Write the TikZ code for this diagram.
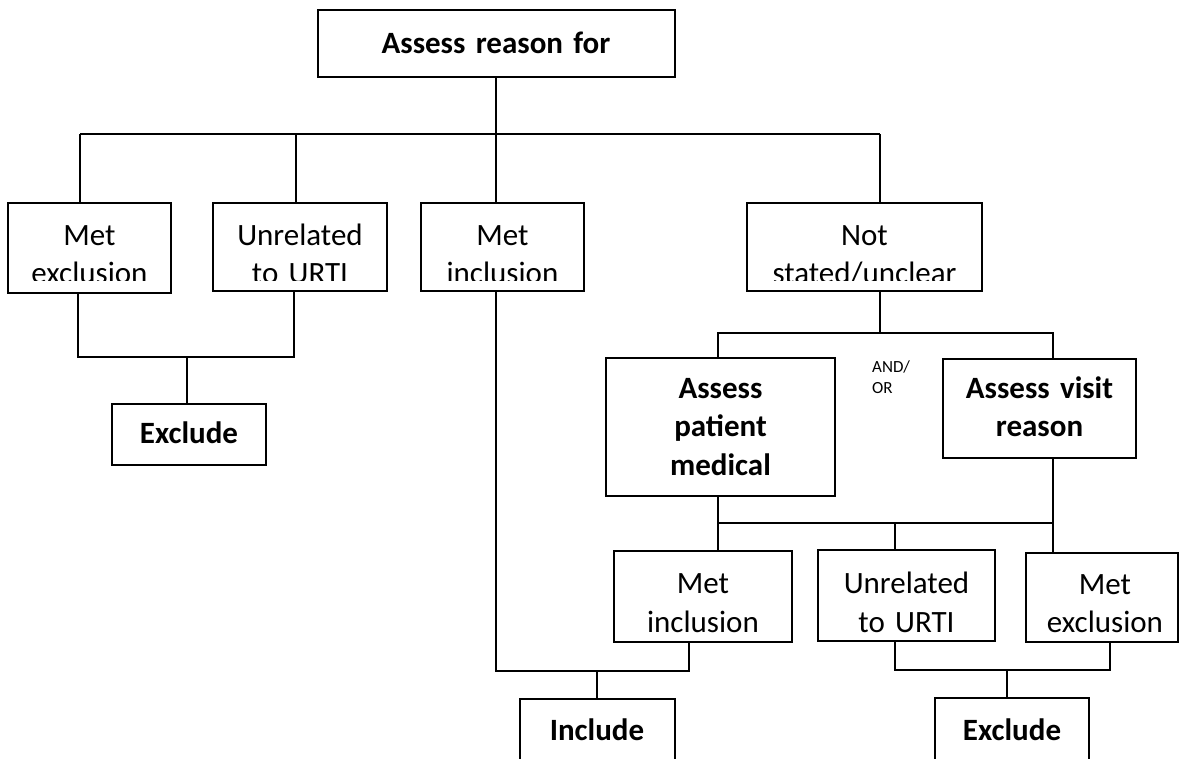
\documentclass[tikz,border=0pt]{standalone}
\usepackage{fontspec}
\setmainfont{Carlito}
\usepackage{tikz}
\tikzset{
x=1pt, y=-1pt,
box/.style={%
    rectangle,
    inner sep=0pt,
    draw=black,
    line width=2pt,
},
link/.style={draw=black, line width=2pt},
txt/.style={%
    inner sep=0pt,
    text width=300pt,
    align=center,
    anchor=base,
    font=\fontsize{31}{38.5}\selectfont
},
btxt/.style={txt, font=\fontsize{31}{38.5}\selectfont\bfseries},
small/.style={%
    inner sep=0pt, text width=60pt, align=left, anchor=base west,
    font=\fontsize{17}{21}\selectfont
},
}

\begin{document}
\begin{tikzpicture}
	\clip (0,0) rectangle (1181,758);
	% boxes
	\node[box, minimum width=357, minimum height=67] (top) at (496,43.5) {};
	\node[box, minimum width=163, minimum height=90] (metexA) at (89.5,248) {};
	\node[box, minimum width=174, minimum height=88] (unrelA) at (300,247) {};
	\node[box, minimum width=163, minimum height=88] (metinA) at (502.5,247) {};
	\node[box, minimum width=235, minimum height=88] (notst) at (864.5,247) {};
	\node[box, minimum width=154, minimum height=61] (excludeA) at (189,434.5) {};
	\node[box, minimum width=229, minimum height=138] (medical) at (720.5,427) {};
	\node[box, minimum width=193, minimum height=99] (visit) at (1039.5,408.5) {};
	\node[box, minimum width=178, minimum height=91] (metinB) at (703,596.5) {};
	\node[box, minimum width=177, minimum height=91] (unrelB) at (906.5,595.5) {};
	\node[box, minimum width=152, minimum height=89] (metexB) at (1102,597.5) {};
	\node[box, minimum width=155, minimum height=75] (include) at (597,736.5) {};
	\node[box, minimum width=154, minimum height=75] (excludeB) at (1012,735.5) {};

	% texts
	\node[btxt] at (496,53) {Assess reason for};
	\begin{scope}
		\clip (0,190) rectangle (1181,280);
		\node[txt] at (89.5,245) {Met\\exclusion};
		\node[txt] at (300,245) {Unrelated\\to URTI};
		\node[txt] at (502.5,245) {Met\\inclusion};
		\node[txt] at (864.5,245) {Not\\stated/unclear};
	\end{scope}
	\node[btxt] at (189,443) {Exclude};
	\node[btxt] at (720.5,398) {Assess\\patient\\medical};
	\node[btxt] at (1039.5,398) {Assess visit\\reason};
	\node[small] (andor) at (872,372) {AND/\\OR};
	\node[txt] at (703,593.5) {Met\\inclusion};
	\node[txt] at (906.5,593.5) {Unrelated\\to URTI};
	\begin{scope}
		\clip (1030,555) rectangle (1181,632);
		\node[txt] at (1105,594) {Met\\exclusion};
	\end{scope}
	\node[btxt] at (597,740) {Include};
	\node[btxt] at (1012,740) {Exclude};

	% bus junctions
	\coordinate (busA1) at (80,134);
	\coordinate (busA2) at (296,134);
	\coordinate (busA3) at (496,134);
	\coordinate (busA4) at (880,134);
	\coordinate (busB1) at (78,357);
	\coordinate (busB2) at (294,357);
	\coordinate (busB3) at (187,357);
	\coordinate (busC1) at (718,333);
	\coordinate (busC2) at (1053,333);
	\coordinate (busC3) at (880,333);
	\coordinate (busD1) at (718,523);
	\coordinate (busD2) at (895,523);
	\coordinate (busD3) at (1053,523);
	\coordinate (busE1) at (496,671);
	\coordinate (busE2) at (689,671);
	\coordinate (busE3) at (597,671);
	\coordinate (busF1) at (895,670);
	\coordinate (busF2) at (1110,670);
	\coordinate (busF3) at (1007,670);

	% connectors
	\draw[link] (top) -- (busA3);
	\draw[link] (busA1) -- (busA4);
	\foreach \c/\n in {busA1/metexA, busA2/unrelA, busA3/metinA, busA4/notst}
		\draw[link] (\c) -- (\c |- \n.north);

	\draw[link] (busB1 |- metexA.south) -- (busB1) -- (busB2) -- (busB2 |- unrelA.south);
	\draw[link] (busB3) -- (busB3 |- excludeA.north);

	\draw[link] (busC3 |- notst.south) -- (busC3);
	\draw[link] (busC1 |- medical.north) -- (busC1) -- (busC2) -- (busC2 |- visit.north);

	\draw[link] (busD1 |- medical.south) -- (busD1 |- metinB.north);
	\draw[link] (busD3 |- visit.south) -- (busD3 |- metexB.north);
	\draw[link] (busD1) -- (busD3);
	\draw[link] (busD2) -- (busD2 |- unrelB.north);

	\draw[link] (busE1 |- metinA.south) -- (busE1) -- (busE2) -- (busE2 |- metinB.south);
	\draw[link] (busE3) -- (busE3 |- include.north);

	\draw[link] (busF1 |- unrelB.south) -- (busF1) -- (busF2) -- (busF2 |- metexB.south);
	\draw[link] (busF3) -- (busF3 |- excludeB.north);
\end{tikzpicture}
\end{document}
